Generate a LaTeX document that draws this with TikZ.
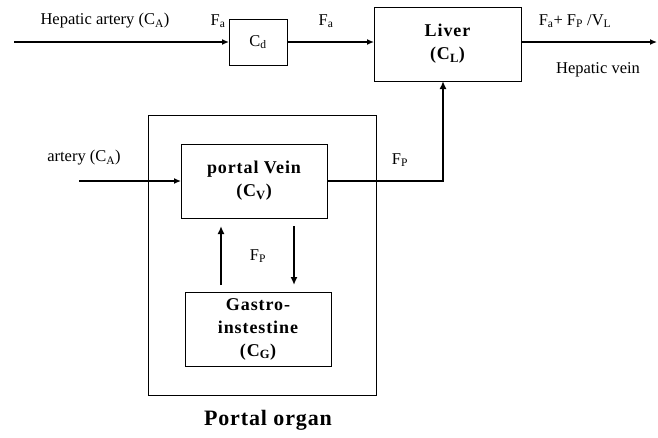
\documentclass[tikz,border=0pt]{standalone}
\usepackage{fontspec}
\setmainfont{Liberation Serif}
\usetikzlibrary{arrows.meta,positioning}
\begin{document}
\begin{tikzpicture}[x=1pt,y=-1pt,
  box/.style={draw,line width=1pt,inner sep=0pt,outer sep=0pt,anchor=north west},
  lbl/.style={font=\fontsize{16.5}{19}\selectfont,inner sep=0pt},
  blbl/.style={font=\fontsize{18}{23}\selectfont\bfseries\addfontfeature{LetterSpace=5},align=center,inner sep=0pt},
  flow/.style={line width=1.3pt,-{Latex[length=7pt,width=6pt]}},
  thick flow/.style={line width=2pt,-{Latex[length=8pt,width=7pt]}}]
\useasboundingbox (0,0) rectangle (658,437);
% boxes
\node[box,minimum width=58pt,minimum height=46pt] (cd) at (229,19) {};
\node[lbl] at (cd.center) {C\textsubscript{d}};
\node[box,minimum width=147pt,minimum height=74pt] (liver) at (374,7) {};
\node[blbl] at (liver.center) {Liver\\(C\textsubscript{L})};
\node[box,minimum width=228pt,minimum height=280pt] (portal) at (148,115) {};
\node[box,minimum width=146pt,minimum height=74pt] (pv) at (181,144) {};
\node[blbl] at (pv.center) {portal Vein\\(C\textsubscript{V})};
\node[box,minimum width=146pt,minimum height=74pt] (gi) at (185,292) {};
\node[blbl] at (gi.center) {Gastro-\\instestine\\(C\textsubscript{G})};
\node[font=\fontsize{22}{26}\selectfont\bfseries\addfontfeature{LetterSpace=4},inner sep=0pt] (po) at (268,420) {Portal organ};
% free ends
\coordinate (ha) at (14,42);
\coordinate (hv) at (657,42);
\coordinate (art) at (79,181);
\coordinate (corner) at (443,181);
% connectors
\draw[flow] (ha) -- (ha -| cd.west);
\draw[flow] (ha -| cd.east) -- (ha -| liver.west);
\draw[flow] (ha -| liver.east) -- (hv);
\draw[flow] (art) -- (art -| pv.west);
\draw[thick flow] (corner -| pv.east) -- (corner) -- (corner |- liver.south);
\draw[thick flow] (221,285) -- (221,226);
\draw[thick flow] (294,226) -- (294,285);
% labels
\node[lbl] (t1) at (105,21) {Hepatic artery (C\textsubscript{A})};
\node[lbl] (t2) at (218,21) {F\textsubscript{a}};
\node[lbl] (t3) at (326,21) {F\textsubscript{a}};
\node[lbl] (t4) at (575,21) {F\textsubscript{a}+ F\textsubscript{P} /V\textsubscript{L}};
\node[lbl] (t5) at (598,70) {Hepatic vein};
\node[lbl] (t6) at (84,158) {artery (C\textsubscript{A})};
\node[lbl] (t7) at (400,160) {F\textsubscript{P}};
\node[lbl] (t8) at (258,256) {F\textsubscript{P}};
\end{tikzpicture}
\end{document}
